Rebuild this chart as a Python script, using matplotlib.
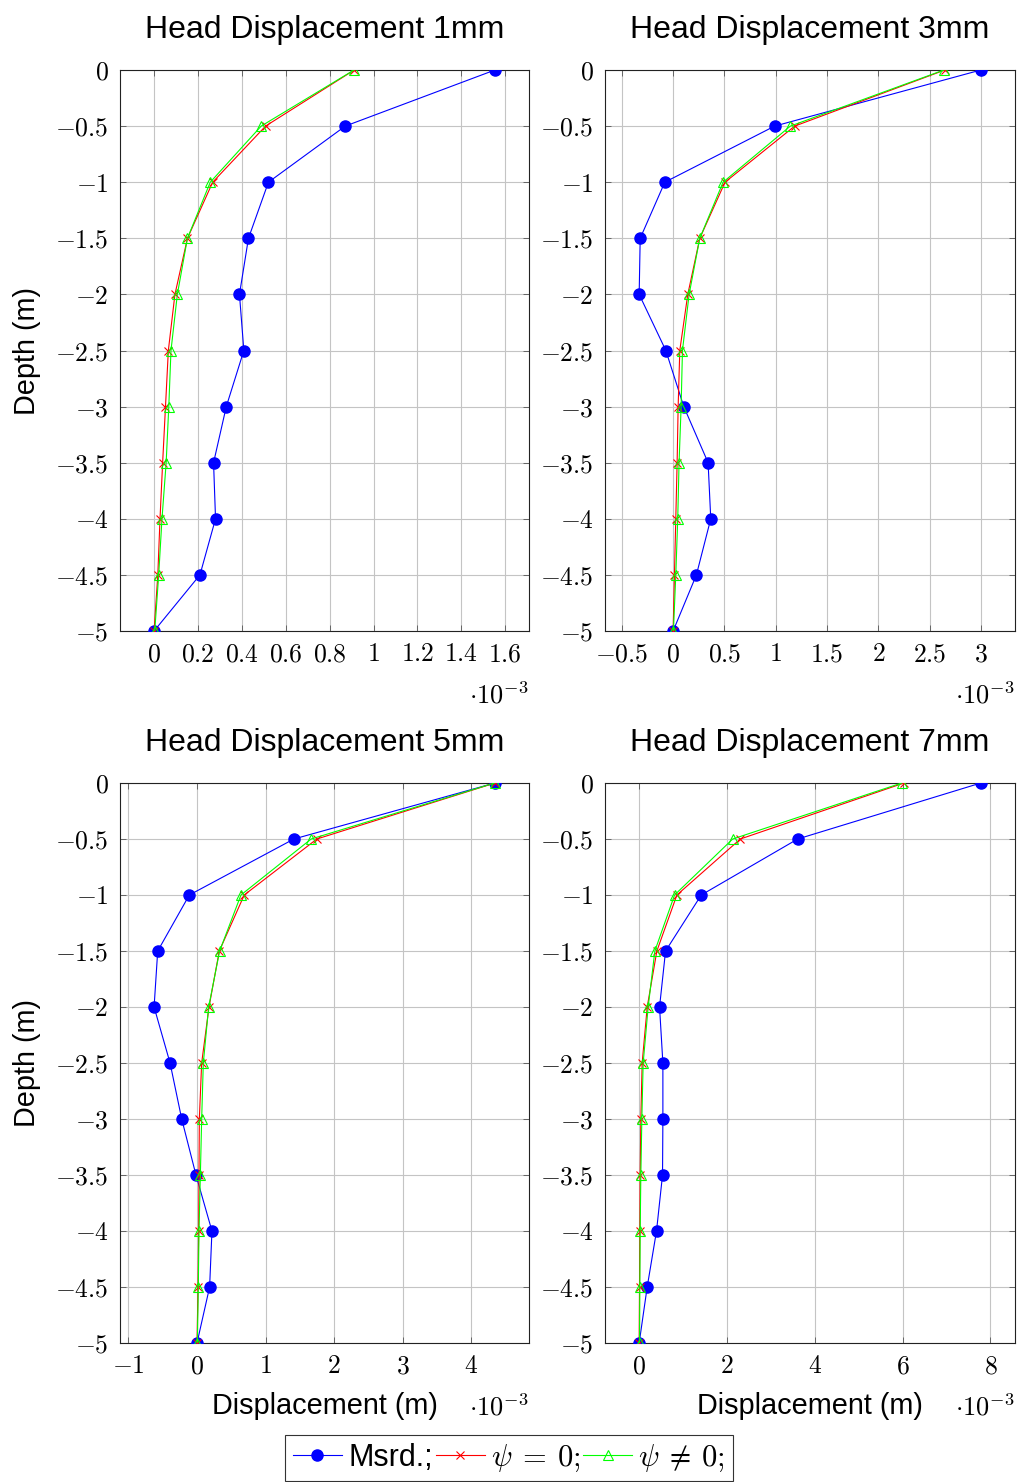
import matplotlib
matplotlib.use("Agg")
import matplotlib.pyplot as plt
from matplotlib.ticker import MultipleLocator, FuncFormatter
from matplotlib.lines import Line2D
import numpy as np

plt.rcParams['font.family'] = ['Liberation Sans', 'DejaVu Sans']
plt.rcParams['mathtext.fontset'] = 'cm'

# depth of each reading (m)
depth = [0, -0.5, -1, -1.5, -2, -2.5, -3, -3.5, -4, -4.5, -5]

# displacement values, in units of 1e-3 m
msrd_1mm = [1.553, 0.871, 0.521, 0.430, 0.389, 0.409, 0.329, 0.271, 0.280, 0.209, 0.0]
psi0_1mm = [0.912, 0.508, 0.267, 0.152, 0.095, 0.065, 0.052, 0.039, 0.027, 0.017, 0.0]
psin_1mm = [0.911, 0.488, 0.256, 0.152, 0.106, 0.077, 0.067, 0.055, 0.036, 0.021, 0.003]

msrd_3mm = [3.0, 0.990, -0.081, -0.321, -0.331, -0.071, 0.104, 0.341, 0.367, 0.227, 0.0]
psi0_3mm = [2.649, 1.185, 0.506, 0.260, 0.143, 0.065, 0.049, 0.039, 0.026, 0.013, 0.0]
psin_3mm = [2.640, 1.143, 0.487, 0.260, 0.156, 0.091, 0.078, 0.058, 0.045, 0.026, 0.003]

msrd_5mm = [4.345, 1.413, -0.112, -0.573, -0.626, -0.393, -0.223, -0.015, 0.218, 0.184, 0.0]
psi0_5mm = [4.345, 1.748, 0.689, 0.325, 0.175, 0.068, 0.034, 0.029, 0.024, 0.015, 0.0]
psin_5mm = [4.340, 1.665, 0.641, 0.330, 0.170, 0.092, 0.068, 0.049, 0.029, 0.019, 0.005]

msrd_7mm = [7.78, 3.61, 1.414, 0.601, 0.464, 0.540, 0.540, 0.532, 0.395, 0.183, 0.0]
psi0_7mm = [6.03, 2.304, 0.859, 0.403, 0.183, 0.068, 0.038, 0.023, 0.015, 0.008, 0.0]
psin_7mm = [5.98, 2.13, 0.806, 0.357, 0.205, 0.091, 0.061, 0.038, 0.023, 0.015, 0.008]

titles = ['Head Displacement 1mm', 'Head Displacement 3mm',
          'Head Displacement 5mm', 'Head Displacement 7mm']
x_steps = [0.2, 0.5, 1, 2]
series = [(msrd_1mm, psi0_1mm, psin_1mm), (msrd_3mm, psi0_3mm, psin_3mm),
          (msrd_5mm, psi0_5mm, psin_5mm), (msrd_7mm, psi0_7mm, psin_7mm)]

W, H = 1017, 1482
fig = plt.figure(figsize=(W / 100, H / 100), dpi=100)

# axes boxes in pixels: left, top, right, bottom
boxes = [(120, 70, 529, 631), (605, 70, 1015, 631),
         (120, 783, 529, 1343), (605, 783, 1015, 1343)]


def tick_fmt(v, pos):
    v = round(v, 4)
    if abs(v) < 1e-9:
        v = 0
    return '$%s$' % ('%g' % v)


for i, (box, title, step, (m, p0, pn)) in enumerate(zip(boxes, titles, x_steps, series)):
    l, t, r, b = box
    ax = fig.add_axes([l / W, 1 - b / H, (r - l) / W, (b - t) / H])

    ax.plot(m, depth, color='#0000ff', lw=0.8, marker='o', ms=8, zorder=3)
    ax.plot(p0, depth, color='#ff0000', lw=0.8, marker='x', ms=6, mew=0.8, zorder=4)
    ax.plot(pn, depth, color='#00ff00', lw=0.8, marker='^', ms=7, mew=0.8,
            mfc='none', zorder=5)

    # pgfplots-like 10% enlargement of x limits
    allx = np.concatenate([m, p0, pn])
    lo, hi = allx.min(), allx.max()
    pad = 0.1 * (hi - lo)
    ax.set_xlim(lo - pad, hi + pad)
    ax.set_ylim(-5, 0)

    ax.xaxis.set_major_locator(MultipleLocator(step))
    ax.yaxis.set_major_locator(MultipleLocator(0.5))
    ax.xaxis.set_major_formatter(FuncFormatter(tick_fmt))
    ax.yaxis.set_major_formatter(FuncFormatter(tick_fmt))

    ax.grid(True, color='#c4c4c4', lw=0.8)
    ax.set_axisbelow(True)
    ax.tick_params(direction='in', top=True, right=True, length=4, width=0.6,
                   color='#555555', labelsize=18.5, pad=8)
    for s in ax.spines.values():
        s.set_linewidth(0.8)
        s.set_color('#222222')

    ax.set_title(title, fontsize=23, pad=23)
    ax.text(1.0, -0.114, r'$\cdot 10^{-3}$', transform=ax.transAxes,
            ha='right', va='center', fontsize=19)

    if i >= 2:
        ax.set_xlabel('Displacement (m)', fontsize=20.8)
        ax.xaxis.set_label_coords(0.5, -0.087)
    if i % 2 == 0:
        ax.set_ylabel('Depth (m)', fontsize=20.8)
        ax.yaxis.set_label_coords(-0.193, 0.5)

handles = [
    Line2D([], [], color='#0000ff', lw=0.8, marker='o', ms=8),
    Line2D([], [], color='#ff0000', lw=0.8, marker='x', ms=6, mew=0.8),
    Line2D([], [], color='#00ff00', lw=0.8, marker='^', ms=7, mew=0.8, mfc='none'),
]
labels = ['Msrd.;', r'$\psi\:=\:0;$', r'$\psi\:\neq\:0;$']
leg = fig.legend(handles, labels, loc='center', bbox_to_anchor=(509 / W, 1 - 1458 / H),
                 ncol=3, fontsize=22, frameon=True, fancybox=False, framealpha=1,
                 edgecolor='#333333', handlelength=1.6, handletextpad=0.2,
                 columnspacing=0.1, borderpad=0.25, borderaxespad=0)
leg.get_frame().set_linewidth(0.8)

fig.savefig('out.png', dpi=100)
